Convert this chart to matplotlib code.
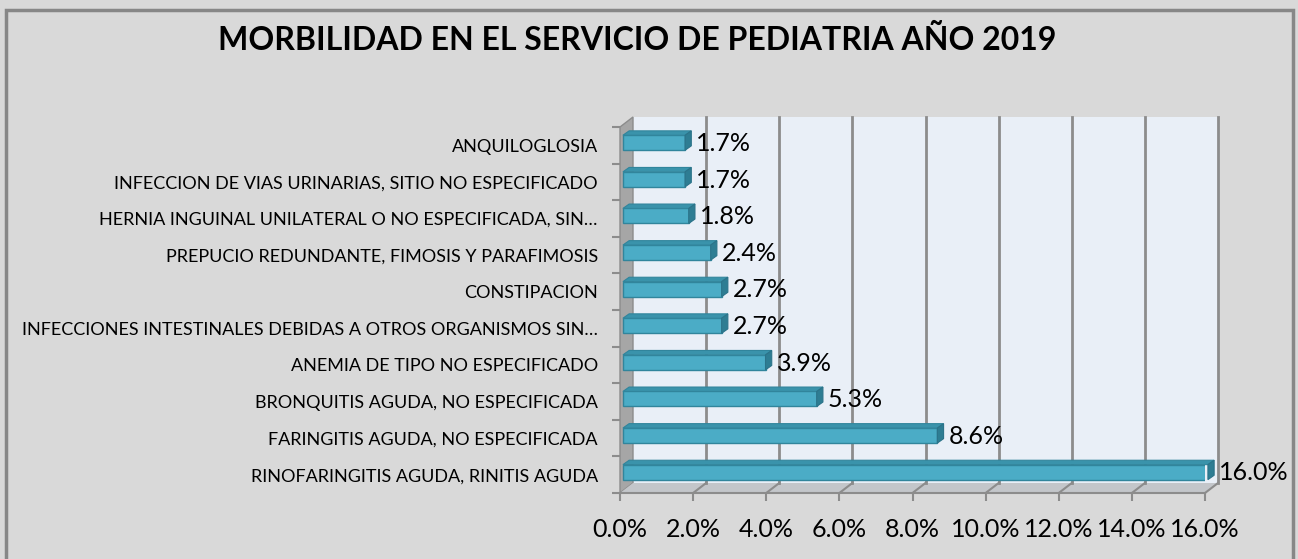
import numpy as np
import matplotlib.pyplot as plt
from matplotlib.patches import Polygon, Rectangle

# datos (de abajo hacia arriba)
categorias = [
    "RINOFARINGITIS AGUDA, RINITIS AGUDA",
    "FARINGITIS AGUDA, NO ESPECIFICADA",
    "BRONQUITIS AGUDA, NO ESPECIFICADA",
    "ANEMIA DE TIPO NO ESPECIFICADO",
    "INFECCIONES INTESTINALES DEBIDAS A OTROS ORGANISMOS SIN\u2026",
    "CONSTIPACION",
    "PREPUCIO REDUNDANTE, FIMOSIS Y PARAFIMOSIS",
    "HERNIA INGUINAL UNILATERAL O NO ESPECIFICADA, SIN\u2026",
    "INFECCION DE VIAS URINARIAS, SITIO NO ESPECIFICADO",
    "ANQUILOGLOSIA",
]
porcentajes = [16.0, 8.6, 5.3, 3.9, 2.7, 2.7, 2.4, 1.8, 1.7, 1.7]
xticks = np.arange(0, 17, 2)
titulo = "MORBILIDAD EN EL SERVICIO DE PEDIATRIA AÑO 2019"

plt.rcParams['font.family'] = ['Lato', 'DejaVu Sans']

W, H = 1298, 559
fig = plt.figure(figsize=(W / 100, H / 100), dpi=100, facecolor='#d9d9d9')
# borde del grafico
fig.patches.append(Rectangle((6 / W, -0.05), 1287 / W, 1.05 - 10 / H,
                             transform=fig.transFigure, fill=False,
                             edgecolor='#878787', linewidth=2.5))

ax = fig.add_axes([620 / W, (H - 493) / H, 585 / W, 366 / H])
ax.set_xlim(0, 16)
ax.set_ylim(-0.5, 9.5)
ax.patch.set_alpha(0)
for s in ax.spines.values():
    s.set_visible(False)

# profundidad (en unidades de datos)
DX = 13 / (585 / 16)
DY = 10 / 36.6
ymin, ymax = -0.5, 9.5

# pared del fondo
ax.add_patch(Rectangle((DX, ymin + DY), 16, ymax - ymin, facecolor='#e9eff7',
                       edgecolor='none', clip_on=False, zorder=0))
# pared lateral
ax.add_patch(Polygon([(0, ymin), (0, ymax), (DX, ymax + DY), (DX, ymin + DY)],
                     closed=True, facecolor='#a6a6a6', edgecolor='#8c8c8c',
                     linewidth=1, clip_on=False, zorder=1))
# piso
ax.add_patch(Polygon([(0, ymin), (16, ymin), (16 + DX, ymin + DY), (DX, ymin + DY)],
                     closed=True, facecolor='#c3c6ca', edgecolor='none',
                     clip_on=False, zorder=1))
# lineas de cuadricula
for t in xticks[1:]:
    ax.plot([t + DX, t + DX], [ymin + DY, ymax + DY], color='#8c8c8c',
            linewidth=2, clip_on=False, zorder=1)
    ax.plot([t, t + DX], [ymin, ymin + DY], color='#8c8c8c',
            linewidth=1.5, clip_on=False, zorder=1)
ax.plot([0, 16], [ymin, ymin], color='#8c8c8c', linewidth=1.5,
        clip_on=False, zorder=2)

# barras 3D
y = np.arange(len(categorias))
BX0 = 0.08
bh = 0.41
bdx, bdy = 0.17, 0.12
yoff = 0.07
ax.barh(y + yoff, porcentajes, height=bh, left=BX0, color='#4bacc6',
        edgecolor='#31859c', linewidth=1, zorder=3)
for yi, v in zip(y, porcentajes):
    x1 = BX0 + v
    yt = yi + yoff + bh / 2
    yb = yi + yoff - bh / 2
    ax.add_patch(Polygon([(BX0, yt), (x1, yt), (x1 + bdx, yt + bdy), (BX0 + bdx, yt + bdy)],
                         closed=True, facecolor='#3a93ab', edgecolor='#31859c',
                         linewidth=0.8, clip_on=False, zorder=3))
    ax.add_patch(Polygon([(x1, yb), (x1, yt), (x1 + bdx, yt + bdy), (x1 + bdx, yb + bdy)],
                         closed=True, facecolor='#2e7d93', edgecolor='#2b7389',
                         linewidth=0.8, clip_on=False, zorder=3))
    ax.text(x1 + 0.3, yi + 0.05, f"{v:.1f}%", ha='left', va='center',
            fontsize=18, color='#000000', zorder=4, clip_on=False)

# ejes
ax.set_yticks(y)
ax.set_yticklabels(categorias, fontsize=13)
ax.set_yticks(np.arange(-0.5, 10, 1), minor=True)
ax.tick_params(axis='y', which='major', length=0, pad=16)
ax.tick_params(axis='y', which='minor', length=6, color='#8c8c8c', width=1.5)
ax.set_xticks(xticks)
ax.set_xticklabels([f"{t:.1f}%" for t in xticks], fontsize=18)
ax.tick_params(axis='x', length=6, color='#8c8c8c', width=1.5, pad=12)

fig.text(637 / W, 1 - 40 / H, titulo, ha='center', va='center',
         fontsize=23, fontweight='bold')

fig.savefig('out.png', dpi=100, facecolor=fig.get_facecolor())
